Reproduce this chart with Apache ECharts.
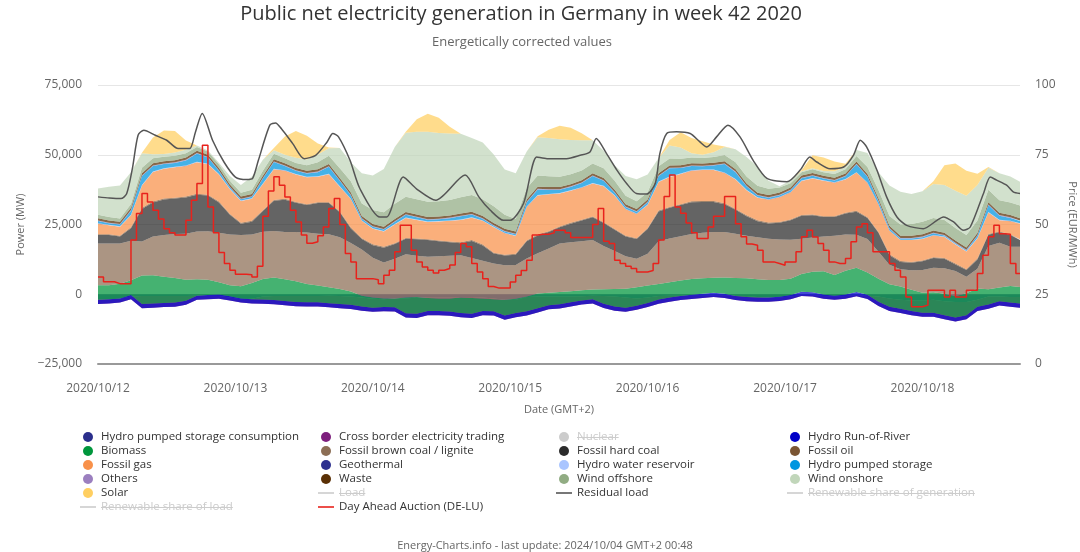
<!DOCTYPE html>
<html><head><meta charset="utf-8">
<script src="https://cdn.jsdelivr.net/npm/echarts@6/dist/echarts.min.js"></script>
<style>html,body{margin:0;padding:0;background:#fff}#c{width:1080px;height:552px}</style>
</head><body><div id="c"></div>
<script>
// ---- time grid: hours after 2020/10/12 00:00 (GMT+2)
const hours = [0,2,4,6,8,10,12,14,16,18,20,22,24,26,28,30,32,34,36,38,40,42,44,46,48,50,52,54,56,58,60,62,64,66,68,70,72,74,76,78,80,82,84,86,88,90,92,94,96,98,100,102,104,106,108,110,112,114,116,118,120,122,124,126,128,130,132,134,136,138,140,142,144,146,148,150,152,154,156,158,160,162,164,166,167.75];
const tickHours = [0,25,50,75,100,125,150];
const tickLabels = ['2020/10/12','2020/10/13','2020/10/14','2020/10/15','2020/10/16','2020/10/17','2020/10/18'];

// ---- series values (MW)
const pumpedConsumption = [-1800,-1800,-1600,-800,-600,-600,-600,-600,-600,-500,-500,-600,-1200,-1800,-1600,-800,-600,-600,-600,-600,-600,-500,-600,-800,-1200,-1600,-1800,-1500,-1500,-1200,-1200,-1200,-1200,-1000,-1000,-1200,-1500,-2000,-2000,-1000,-800,-800,-800,-800,-700,-500,-600,-800,-1200,-1500,-1200,-600,-500,-500,-500,-500,-400,-400,-500,-600,-1000,-1200,-1200,-800,-300,-300,-600,-800,-600,-300,-500,-800,-1500,-2000,-2200,-2200,-2000,-2500,-2800,-2800,-2000,-800,-800,-1000,-1000];
const crossBorder = [-1700,-1500,-1400,-1000,-4400,-4200,-4000,-3900,-3200,-1500,-1300,-1000,-1000,-1200,-1700,-2600,-3000,-3300,-3700,-3800,-3800,-4200,-4400,-4500,-4700,-4700,-4300,-4700,-6800,-7300,-6300,-6300,-6500,-7200,-7500,-6300,-6100,-7100,-6200,-6600,-5700,-4600,-4300,-3600,-3000,-2800,-4300,-5100,-5100,-4100,-3400,-2800,-2200,-1600,-1200,-800,-600,-900,-1600,-1900,-1700,-1500,-1200,-1000,-300,-500,-1000,-1200,-1000,-400,-1200,-3400,-4500,-4700,-5300,-5900,-6100,-6500,-7000,-6200,-4000,-4400,-3200,-3500,-3800];
const runOfRiver = [1500,1500,1500,1500,1500,1500,1500,1500,1500,1500,1500,1500,1500,1500,1500,1500,1500,1500,1500,1500,1500,1500,1500,1500,1500,1500,1500,1500,1500,1500,1500,1500,1500,1500,1500,1500,1500,1500,1500,1500,1500,1500,1500,1500,1500,1500,1500,1500,1500,1500,1500,1500,1500,1500,1500,1500,1500,1500,1500,1500,1500,1500,1500,1500,1500,1500,1500,1500,1500,1500,1500,1500,1500,1500,1500,1500,1500,1500,1500,1500,1500,1500,1500,1500,1500];
const biomass = [5200,5000,5300,5300,10200,10100,9400,8800,7500,5900,5500,4400,3900,4400,5800,7400,8100,7800,7500,6600,6000,5700,5400,4800,3900,3600,3100,3200,5600,6000,4700,4500,4700,5500,5700,4500,4300,5600,5100,5300,5300,4400,4400,4000,3600,3500,5200,6300,6800,6600,6200,5600,5500,5500,5700,5500,5400,5800,6400,6700,6600,6300,6000,5900,6400,7400,8300,7400,8500,8700,8000,8300,8100,8000,7600,7100,7300,7700,7600,7900,6600,5500,4900,6000,5900];
const lignite = [15000,15000,14400,14200,12200,13900,14900,15800,16500,17100,17400,17700,18200,18300,17400,16900,16700,16900,17600,18400,18600,19000,18500,17400,16500,14300,12900,14200,15500,14800,14700,15100,15300,15200,14300,13500,12800,12400,12100,13600,14400,15900,17400,17500,17600,17700,15500,13600,11600,10200,11400,15300,15700,15900,16100,16300,16400,16300,15900,15300,15000,14800,14500,13900,12600,12200,12500,14100,13000,11800,12000,9600,7000,6200,7000,8200,8800,9100,9000,5900,7000,15500,16100,14000,14400];
const hardCoal = [3000,3000,2500,4500,11700,12200,12800,12700,13000,13200,12800,10900,7100,4100,4600,7400,10800,11600,10500,9900,11000,11200,9000,5200,3800,4500,5300,5300,5600,5900,6000,5400,4800,4300,6100,5500,3600,3500,3700,6200,6400,5900,5800,6700,7400,8200,8200,7600,7100,7100,8900,10700,11000,11200,11400,11100,10800,10000,8600,7000,5800,5500,6000,7000,8200,8000,7000,6700,7500,8300,7500,6800,3400,2600,2700,3100,3500,3400,2400,2400,3400,4000,3700,4200,2400];
const fossilOil = [300,300,300,300,300,300,300,300,300,300,300,300,300,300,300,300,300,300,300,300,300,300,300,300,300,300,300,300,300,300,300,300,300,300,300,300,300,300,300,300,300,300,300,300,300,300,300,300,300,300,300,300,300,300,300,300,300,300,300,300,300,300,300,300,300,300,300,300,300,300,300,300,300,300,300,300,300,300,300,300,300,300,300,300,300];
const fossilGas = [3800,3200,3200,4300,8100,10600,10700,10900,11000,11300,10900,9700,8800,7800,7900,9400,11000,10100,9800,9600,9100,10000,8800,10200,6200,5600,5500,6700,7100,6600,6200,6800,7400,8000,8000,8500,9100,7700,6400,12000,14000,13200,11800,11500,11500,11800,12900,11900,9500,8700,8300,10200,10700,10800,11000,11100,11100,10900,10500,9000,8100,8200,8900,9700,12200,12900,12700,12000,11900,13700,12300,9900,8500,7500,7800,7700,7800,7500,6800,6300,7200,7700,4000,4700,5600];
const geothermal = [20,20,20,20,20,20,20,20,20,20,20,20,20,20,20,20,20,20,20,20,20,20,20,20,20,20,20,20,20,20,20,20,20,20,20,20,20,20,20,20,20,20,20,20,20,20,20,20,20,20,20,20,20,20,20,20,20,20,20,20,20,20,20,20,20,20,20,20,20,20,20,20,20,20,20,20,20,20,20,20,20,20,20,20,20];
const waterReservoir = [150,150,150,150,150,150,150,150,150,150,150,150,150,150,150,150,150,150,150,150,150,150,150,150,150,150,150,150,150,150,150,150,150,150,150,150,150,150,150,150,150,150,150,150,150,150,150,150,150,150,150,150,150,150,150,150,150,150,150,150,150,150,150,150,150,150,150,150,150,150,150,150,150,150,150,150,150,150,150,150,150,150,150,150,150];
const pumpedStorage = [800,600,600,1500,3200,2000,1500,1400,1800,3000,2200,1200,600,500,600,1800,2400,1500,1200,1200,1500,2500,2000,1200,600,500,500,800,1000,800,600,600,800,1200,1000,600,400,400,400,1500,2000,1500,1200,1200,1500,2500,1800,1000,600,600,800,2000,3000,2000,1500,1200,1500,3000,2500,1200,600,500,500,600,800,800,600,600,1000,2800,2000,1000,600,400,400,500,600,400,300,300,800,2500,1500,1000,800];
const others = [200,200,200,200,200,200,200,200,200,200,200,200,200,200,200,200,200,200,200,200,200,200,200,200,200,200,200,200,200,200,200,200,200,200,200,200,200,200,200,200,200,200,200,200,200,200,200,200,200,200,200,200,200,200,200,200,200,200,200,200,200,200,200,200,200,200,200,200,200,200,200,200,200,200,200,200,200,200,200,200,200,200,200,200,200];
const waste = [800,800,800,800,800,800,800,800,800,800,800,800,800,800,800,800,800,800,800,800,800,800,800,800,800,800,800,800,800,800,800,800,800,800,800,800,800,800,800,800,800,800,800,800,800,800,800,800,800,800,800,800,800,800,800,800,800,800,800,800,800,800,800,800,800,800,800,800,800,800,800,800,800,800,800,800,800,800,800,800,800,800,800,800,800];
const windOffshore = [1200,1200,1200,1400,2000,1800,1600,1600,1600,1300,1200,1300,1300,1300,1500,1800,2000,1800,1800,2000,2500,3000,3500,4000,4500,5000,5200,5500,5500,5500,5500,5500,5500,5800,6000,6000,6000,5000,4500,4000,4000,3800,3600,3500,3500,3500,3500,3200,3000,2800,2600,2500,2500,2300,2000,2000,2000,2200,2500,2500,2500,2200,1800,1500,1200,1300,1300,1300,1500,2000,2500,3000,3500,4000,4200,4500,4500,4500,4500,4500,4500,4500,4500,4500,4500];
const windOnshore = [9430,10830,11830,11330,5130,1430,1030,1130,1230,530,330,530,1730,2830,4730,3930,1230,1230,1830,2030,2830,2630,7230,6830,10830,12430,15530,20330,22930,24130,25030,24430,23830,22730,20430,20330,18530,16230,16430,13230,13730,13730,13530,12330,10830,8330,6230,5530,7130,7830,6330,2930,4630,4030,1530,1130,1730,2930,4730,7030,6830,2930,430,1030,330,430,430,1030,830,2130,5030,6330,10930,11730,10730,10930,12130,12630,13330,14030,12730,7830,9730,9330,8530];
const solar = [0,0,0,0,200,6000,8400,7700,3300,0,0,0,0,0,0,0,800,6500,9600,8500,3900,300,0,0,0,0,0,0,300,4500,6500,5500,2400,0,0,0,0,0,0,0,300,3000,4800,4400,2500,0,0,0,0,0,0,0,2000,5500,5500,4800,2800,200,0,0,0,0,0,0,300,4600,4800,3500,1200,0,0,0,0,0,0,0,1000,7000,9800,9000,4000,300,0,0,0];

// residual load (irregular reading points)
const residualHours = [0,2.08,4.17,5.21,6.25,7.29,8.34,10.42,12.5,14.59,16.67,17.71,18.96,20.84,22.92,25,27.09,28.13,29.18,31.26,32.3,33.34,35.43,37.51,39.6,41.68,42.72,43.76,45.85,47.62,51.27,52.52,55.54,57.94,61.48,66.79,69.29,71.38,73.77,75.02,77.42,79.82,81.69,85.24,87.74,89.51,90.65,92.53,94.41,96.18,97.95,99.82,101.39,102.22,103.47,105.24,107.74,109.51,110.76,112.54,114.62,116.81,119.2,121.71,125.35,127.75,129.52,130.77,133.17,135.67,137.44,138.69,139.84,141.71,143.48,145.36,147.13,150.15,152.65,153.8,155.67,157.45,158.7,161.09,162.34,163.49,165.37,166.51,167.75];
const residualLoad = [34900,34500,34300,36000,45000,57000,58800,57000,55200,52200,52200,58000,64800,55200,47400,42000,41100,41500,48000,60600,61400,59400,54000,48600,49800,54600,57600,56400,48000,38000,27700,27700,42000,37800,33700,42700,34900,30100,26500,26500,32500,49200,48600,48600,49800,51000,55800,50400,44500,39700,36100,35900,39700,50400,57600,58200,57600,54600,52800,56400,60600,56400,48000,41500,40300,44500,49200,47400,45000,45600,49800,55200,52800,44500,34900,27700,24700,23500,26500,27700,25900,22900,24100,36000,42000,40900,39000,36700,36100];

// day-ahead price, hourly (EUR/MWh), hour 0..167
const dayAhead = [31.2,29.5,29.5,28.8,28.8,28.8,44.4,53.9,61.1,58.1,55.1,52.0,48.5,47.0,46.2,46.2,51.5,58.7,64.7,78.4,56.3,47.0,40.0,36.0,
33.6,32.2,32.2,32.0,31.2,35.0,53.0,62.0,67.1,64.1,59.9,55.1,50.9,46.2,43.3,43.8,46.0,49.1,55.7,59.3,50.0,39.6,36.6,30.6,
30.6,30.6,30.2,28.8,31.8,33.6,40.2,49.7,49.7,40.8,36.6,34.8,33.6,32.6,33.6,34.2,35.5,40.0,43.2,42.0,36.0,33.0,30.6,27.8,
27.2,27.2,27.2,29.4,31.8,33.5,37.2,46.2,46.5,46.5,47.0,47.9,47.9,47.0,45.3,45.3,45.3,45.3,50.0,55.7,44.0,43.2,37.2,36.0,
35.0,34.2,33.0,33.0,33.5,36.0,44.4,60.0,67.7,56.3,54.0,50.5,47.0,45.0,45.0,49.1,53.0,53.0,60.0,60.0,50.3,45.6,43.0,42.6,
40.8,36.6,36.6,36.0,35.4,36.6,36.6,40.2,45.6,47.9,45.5,43.2,40.8,36.6,36.0,36.0,37.8,43.8,49.1,50.3,47.0,40.2,40.2,40.2,
36.0,33.6,31.2,24.0,20.5,20.5,21.1,26.4,26.4,26.4,24.0,26.4,24.0,24.0,26.4,26.4,32.4,39.0,45.6,49.7,46.7,46.5,36.0,32.4];

// ---- helpers
const BASE = Date.UTC(2020, 9, 11, 22, 0, 0); // 2020/10/12 00:00 GMT+2
const HOUR = 3600000;
const tm = h => BASE + h * HOUR;
const pairs = (xs, ys) => ys.map((v, i) => [tm(xs[i]), v]);
const priceData = dayAhead.map((v, i) => [tm(i), v]);
priceData.push([tm(167.75), dayAhead[dayAhead.length - 1]]);

const FONT = '"Open Sans", "Noto Sans", sans-serif';
const LEG_FS = 11.5;
const LINE_ICON = 'path://M0,0L16,0L16,1.6L0,1.6Z';

function area(name, color, values) {
  return {
    name, type: 'line', stack: 'gen', stackStrategy: 'all',
    data: pairs(hours, values), symbol: 'none', showSymbol: false,
    color, lineStyle: { width: 0 }, areaStyle: { color, opacity: 0.73 },
    emphasis: { disabled: true }, silent: true, z: 2
  };
}
function hiddenLine(name, color, yIdx) {
  return { name, type: 'line', data: [], symbol: 'none', color, yAxisIndex: yIdx || 0 };
}

const series = [
  area('Hydro pumped storage consumption', '#2b2f8c', pumpedConsumption),
  area('Cross border electricity trading', '#7d1f7d', crossBorder),
  { name: 'Nuclear', type: 'line', data: [], symbol: 'none', color: '#999999' },
  area('Hydro Run-of-River', '#0000c8', runOfRiver),
  area('Biomass', '#00963c', biomass),
  area('Fossil brown coal / lignite', '#8c6e55', lignite),
  area('Fossil hard coal', '#2b2b2b', hardCoal),
  area('Fossil oil', '#7b5533', fossilOil),
  area('Fossil gas', '#f8914a', fossilGas),
  area('Geothermal', '#2e318f', geothermal),
  area('Hydro water reservoir', '#a9c5ff', waterReservoir),
  area('Hydro pumped storage', '#0096e0', pumpedStorage),
  area('Others', '#9b7fbf', others),
  area('Waste', '#5a3005', waste),
  area('Wind offshore', '#91ac83', windOffshore),
  area('Wind onshore', '#c1d6ba', windOnshore),
  area('Solar', '#ffcf61', solar),
  hiddenLine('Load', '#888888'),
  { name: 'Residual load', type: 'line', data: pairs(residualHours, residualLoad), symbol: 'none',
    smooth: 0.25, color: '#555555', lineStyle: { width: 1.5, color: '#555555' }, z: 5, silent: true },
  hiddenLine('Renewable share of generation', '#888888', 1),
  hiddenLine('Renewable share of load', '#888888', 1),
  { name: 'Day Ahead Auction (DE-LU)', type: 'line', yAxisIndex: 1, data: priceData, step: 'end',
    symbol: 'none', color: '#e8221c', lineStyle: { width: 1.5, color: '#e8221c' }, z: 6, silent: true }
];

const lineNames = ['Load', 'Residual load', 'Renewable share of generation', 'Renewable share of load', 'Day Ahead Auction (DE-LU)'];
const hiddenNames = ['Nuclear', 'Load', 'Renewable share of generation', 'Renewable share of load'];
const selected = {}; hiddenNames.forEach(n => selected[n] = false);
const item = n => ({ name: n, icon: lineNames.includes(n) ? LINE_ICON : 'circle' });
const legendCols = [
  { left: 80, names: ['Hydro pumped storage consumption', 'Biomass', 'Fossil gas', 'Others', 'Solar', 'Renewable share of load'] },
  { left: 318, names: ['Cross border electricity trading', 'Fossil brown coal / lignite', 'Geothermal', 'Waste', 'Load', 'Day Ahead Auction (DE-LU)'] },
  { left: 556, names: ['Nuclear', 'Fossil hard coal', 'Hydro water reservoir', 'Wind offshore', 'Residual load'] },
  { left: 787, names: ['Hydro Run-of-River', 'Fossil oil', 'Hydro pumped storage', 'Wind onshore', 'Renewable share of generation'] }
];
const LEG_TOP = 431, ROW = 14;
const legend = legendCols.map(c => ({
  orient: 'vertical', left: c.left, top: LEG_TOP, padding: 0, itemGap: 2,
  itemWidth: 16, itemHeight: 10, inactiveColor: '#cccccc', selectedMode: true,
  textStyle: { fontSize: LEG_FS, color: '#333333', fontFamily: FONT, lineHeight: 12 },
  selected, data: c.names.map(item)
}));

// strike-through decorations for hidden legend entries
const cv = document.createElement('canvas').getContext('2d');
cv.font = LEG_FS + 'px ' + FONT;
const strikes = [];
legendCols.forEach(c => c.names.forEach((n, r) => {
  if (hiddenNames.includes(n)) {
    const w = cv.measureText(n).width;
    const x0 = c.left + 21, y0 = LEG_TOP + 6 + r * ROW + 0.5;
    strikes.push({ type: 'line', shape: { x1: x0, y1: y0, x2: x0 + w, y2: y0 },
      style: { stroke: '#cccccc', lineWidth: 1 }, silent: true, z: 100 });
  }
}));

const chart = echarts.init(document.getElementById('c'), null, { renderer: 'canvas' });
chart.setOption({
  animation: false,
  backgroundColor: '#ffffff',
  textStyle: { fontFamily: FONT },
  grid: { left: 98, right: 60, top: 85, bottom: 188, containLabel: false, outerBoundsMode: 'none' },
  xAxis: [
    { type: 'time', min: tm(0), max: tm(167.75), position: 'bottom',
      axisLine: { show: false }, axisTick: { show: false }, splitLine: { show: false },
      axisLabel: { show: false } },
    { type: 'value', min: 0, max: 167.75, interval: 25, position: 'bottom',
      name: 'Date (GMT+2)', nameLocation: 'middle', nameGap: 40,
      nameTextStyle: { fontSize: 11, color: '#666666', fontFamily: FONT },
      axisLine: { show: true, onZero: false, lineStyle: { color: '#999999', width: 2 } },
      axisTick: { show: false }, splitLine: { show: false },
      axisLabel: { margin: 19, fontSize: 12, color: '#666666', fontFamily: FONT, showMaxLabel: false,
        formatter: v => { const k = tickHours.indexOf(v); return k >= 0 ? tickLabels[k] : ''; } } }
  ],
  yAxis: [
    { type: 'value', min: -25000, max: 75000, interval: 25000,
      name: 'Power (MW)', nameLocation: 'middle', nameGap: 67, nameRotate: 90,
      nameTextStyle: { fontSize: 11, color: '#666666', fontFamily: FONT },
      axisLine: { show: false }, axisTick: { show: false },
      splitLine: { show: true, lineStyle: { color: '#e6e6e6', width: 1 } },
      axisLabel: { margin: 16, fontSize: 12, color: '#666666', fontFamily: FONT,
        formatter: v => (v < 0 ? '\u2212' : '') + Math.abs(v).toLocaleString('en-US') } },
    { type: 'value', min: 0, max: 100, interval: 25,
      name: 'Price (EUR/MWh)', nameLocation: 'middle', nameGap: 47, nameRotate: -90,
      nameTextStyle: { fontSize: 11, color: '#666666', fontFamily: FONT },
      axisLine: { show: false }, axisTick: { show: false }, splitLine: { show: false },
      axisLabel: { margin: 15, fontSize: 12, color: '#666666', fontFamily: FONT } }
  ],
  legend,
  series,
  graphic: [
    { type: 'text', x: 521, y: 14, silent: true, style: { text: 'Public net electricity generation in Germany in week 42 2020',
      fontSize: 20, fontFamily: FONT, fill: '#333333', align: 'center', verticalAlign: 'middle' } },
    { type: 'text', x: 522, y: 42, silent: true, style: { text: 'Energetically corrected values',
      fontSize: 13, fontFamily: FONT, fill: '#666666', align: 'center', verticalAlign: 'middle' } },
    { type: 'text', x: 545, y: 546, silent: true, style: { text: 'Energy-Charts.info - last update: 2024/10/04 GMT+2 00:48',
      fontSize: 11, fontFamily: FONT, fill: '#666666', align: 'center', verticalAlign: 'middle' } }
  ].concat(strikes)
});
</script>
</body></html>
